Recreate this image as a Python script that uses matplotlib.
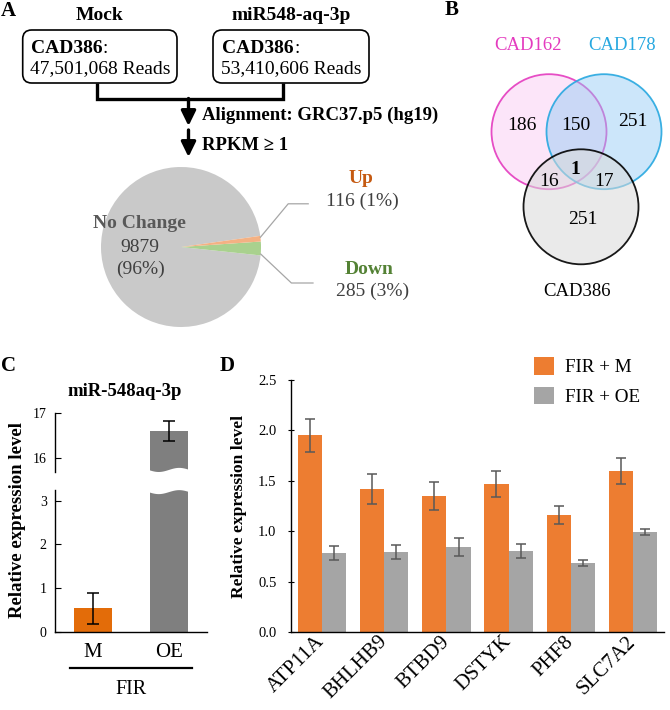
import numpy as np
import matplotlib
matplotlib.use('Agg')
import matplotlib.pyplot as plt
from matplotlib.patches import FancyBboxPatch, Circle, Polygon

plt.rcParams['font.family'] = ['Liberation Serif', 'DejaVu Serif']
plt.rcParams['mathtext.fontset'] = 'stix'

# ---- data ----
# A: read counts + pie of DE genes
sample_names = ['Mock', 'miR548-aq-3p']
sample_reads = ['47,501,068', '53,410,606']
pie_labels = ['No Change', 'Down', 'Up']
pie_counts = [9879, 285, 116]
pie_pcts = ['96%', '3%', '1%']

# B: venn
venn_sets = ['CAD162', 'CAD178', 'CAD386']
venn_regions = ['100', '110', '010', '101', '111', '011', '001']
venn_counts = [186, 150, 251, 16, 1, 17, 251]

# C: miR-548aq-3p qPCR
c_groups = ['M', 'OE']
c_vals = [0.54, 16.6]
c_errs = [0.36, 0.23]

# D: target genes
genes = ['ATP11A', 'BHLHB9', 'BTBD9', 'DSTYK', 'PHF8', 'SLC7A2']
fir_m = [1.95, 1.42, 1.35, 1.47, 1.16, 1.60]
fir_m_err = [0.16, 0.15, 0.14, 0.13, 0.09, 0.13]
fir_oe = [0.78, 0.79, 0.84, 0.80, 0.68, 0.99]
fir_oe_err = [0.07, 0.07, 0.09, 0.07, 0.03, 0.03]

W, H = 670, 710
fig = plt.figure(figsize=(W / 100, H / 100), dpi=100)


def fx(x):
    return x / W


def fy(y):
    return 1 - y / H


# overlay in pixel coords for the flow diagram / venn / labels
ov = fig.add_axes([0, 0, 1, 1])
ov.set_xlim(0, W)
ov.set_ylim(H, 0)
ov.axis('off')


def txt(x, y, s, **kw):
    kw.setdefault('ha', 'center')
    kw.setdefault('va', 'center')
    return ov.text(x, y, s, **kw)


# panel letters
for lab, x, y in [('A', 1, 11), ('B', 445, 10), ('C', 1, 366), ('D', 220, 366)]:
    txt(x, y, lab, ha='left', fontsize=15, weight='bold')

# ---- A: boxes ----
box_x = [(22.7, 177), (213, 369)]
for (x0, x1), name, reads in zip(box_x, sample_names, sample_reads):
    cx = (x0 + x1) / 2
    txt(cx, 15, name, fontsize=14, weight='bold')
    ov.add_patch(FancyBboxPatch((x0, 30), x1 - x0, 53,
                                boxstyle='round,pad=0,rounding_size=9',
                                fc='white', ec='black', lw=1.2))
    txt(cx + 3, 48.5, 'CAD386', ha='right', fontsize=14, weight='bold')
    txt(cx + 3, 48.5, ':', ha='left', fontsize=14)
    txt(cx, 69, reads + ' Reads', fontsize=14)

# connector
ov.plot([96.7, 96.7, 283.3, 283.3], [83, 98.5, 98.5, 83], color='black', lw=2.4,
        solid_joinstyle='miter', solid_capstyle='butt')
ax_arrow = 188.5
for y0, y1 in [(98.5, 126), (130, 157)]:
    ov.annotate('', xy=(ax_arrow, y1), xytext=(ax_arrow, y0),
                arrowprops=dict(arrowstyle='-|>,head_width=0.22,head_length=0.45',
                                lw=2.4, color='black', shrinkA=0, shrinkB=0,
                                mutation_scale=20))
txt(201.7, 115, 'Alignment: GRC37.p5 (hg19)', ha='left', fontsize=13.5, weight='bold')
txt(201.7, 146, 'RPKM ≥ 1', ha='left', fontsize=13.5, weight='bold')

# pie
pie_colors = ['#C9C9C9', '#A9D18E', '#F4B183']
ax_pie = fig.add_axes([fx(101), fy(327), fx(160), 160 / H])
start = 8
wedges, _ = ax_pie.pie(pie_counts, colors=pie_colors, startangle=start,
                       counterclock=True, radius=1, wedgeprops=dict(linewidth=0))
ax_pie.set_xlim(-1, 1)
ax_pie.set_ylim(-1, 1)

txt_col = '#404040'
ax_pie.text(-0.52, 0.30, pie_labels[0], ha='center', va='center', fontsize=14,
            weight='bold', color='#595959')
ax_pie.text(-0.51, 0.0, str(pie_counts[0]), ha='center', va='center', fontsize=14,
            color=txt_col)
ax_pie.text(-0.51, -0.28, '(%s)' % pie_pcts[0], ha='center', va='center', fontsize=14,
            color=txt_col)

label_cols = {'Up': '#C55A11', 'Down': '#548235'}
leader = {'Up': ((1.34, 0.54), (1.59, 0.54), (2.25, 0.86), (2.27, 0.57)),
          'Down': ((1.38, -0.45), (1.65, -0.45), (2.35, -0.275), (2.39, -0.56))}
for i in (1, 2):
    name = pie_labels[i]
    (ex, ey), (lx, ly), (tx, ty), (nx, ny) = leader[name]
    # leader starts at the outer edge of its wedge
    ang = np.deg2rad(wedges[i].theta2 - 1 if name == 'Up' else wedges[i].theta1 + 1)
    sx, sy = np.cos(ang), np.sin(ang)
    ax_pie.plot([sx, ex, lx], [sy, ey, ly], color='#A6A6A6', lw=0.9, clip_on=False)
    ax_pie.text(tx, ty, name, ha='center', va='center', fontsize=14, weight='bold',
                color=label_cols[name], clip_on=False)
    ax_pie.text(nx, ny, '%d (%s)' % (pie_counts[i], pie_pcts[i]), ha='center',
                va='center', fontsize=14, color=txt_col, clip_on=False)

# ---- B: venn ----
r = 57.5
venn_centers = [(549, 131.7), (604, 131.7), (581, 206.8)]
venn_edge = ['#E43BBF', '#27A8E0', 'black']
venn_face = ['#F7B6EE', '#8FC9F4', '#DADADA']
venn_alpha = [0.35, 0.45, 0.55]
for (cx, cy), ec, fc, a in zip(venn_centers, venn_edge, venn_face, venn_alpha):
    ov.add_patch(Circle((cx, cy), r, fc=fc, alpha=a, lw=0))
    ov.add_patch(Circle((cx, cy), r, fc='none', ec=ec, lw=1.3, alpha=0.9))
venn_label_pos = [(528.3, 45), (621.7, 45), (577, 291.7)]
for name, (x, y), c in zip(venn_sets, venn_label_pos, ['#E43BBF', '#27A8E0', 'black']):
    txt(x, y, name, fontsize=13.5, color=c)
region_pos = {'100': (521.7, 125), '110': (576, 125), '010': (633.3, 121),
              '101': (549.3, 182), '111': (575, 170), '011': (604.3, 182),
              '001': (583.3, 220)}
for key, n in zip(venn_regions, venn_counts):
    x, y = region_pos[key]
    txt(x, y, str(n), fontsize=14, weight='bold' if key == '111' else 'normal')

# ---- C: broken axis bar ----
c_colors = ['#E36C09', '#7F7F7F']
ax_lo = fig.add_axes([fx(55), fy(632), fx(152), 142 / H])
ax_hi = fig.add_axes([fx(55), fy(471.7), fx(152), 58.7 / H])
cx_pos = np.arange(len(c_groups))
for ax in (ax_lo, ax_hi):
    ax.set_facecolor('none')
    ax.bar(cx_pos, c_vals, width=0.5, color=c_colors, lw=0)
    ax.set_xlim(-0.5, 1.5)
    for s in ('top', 'right'):
        ax.spines[s].set_visible(False)
    ax.spines['left'].set_linewidth(1.0)
    ax.tick_params(axis='y', direction='in', length=4, labelsize=10, pad=6)
ax_lo.errorbar(cx_pos[0], c_vals[0], yerr=c_errs[0], fmt='none', ecolor='black',
               elinewidth=1.1, capsize=4, capthick=1.1)
ax_hi.errorbar(cx_pos[1], c_vals[1], yerr=c_errs[1], fmt='none', ecolor='black',
               elinewidth=1.1, capsize=4, capthick=1.1)
ax_lo.set_ylim(0, 3.24)
ax_lo.set_yticks([0, 1, 2, 3])
ax_hi.set_ylim(15.69, 17.0)
ax_hi.set_yticks([16, 17])
ax_hi.spines['bottom'].set_visible(False)
ax_hi.set_xticks([])
ax_lo.spines['bottom'].set_linewidth(1.0)
ax_lo.set_xticks(cx_pos)
ax_lo.set_xticklabels(c_groups, fontsize=15)
ax_lo.tick_params(axis='x', length=0, pad=8)

# wavy cut on the OE bar
wx = np.linspace(cx_pos[1] - 0.27, cx_pos[1] + 0.27, 60)
tt = (wx - wx[0]) / (wx[-1] - wx[0])
wave_hi = 0.035 * np.sin(2 * np.pi * tt + np.pi)
ax_hi.add_patch(Polygon(np.column_stack([np.r_[wx, wx[::-1]],
                                         np.r_[wave_hi + 0.03, np.full(60, -0.2)]]),
                        closed=True, fc='white', ec='none',
                        transform=ax_hi.get_xaxis_transform(), clip_on=False, zorder=3))
wave_lo = 0.014 * np.sin(2 * np.pi * tt + np.pi)
ax_lo.add_patch(Polygon(np.column_stack([np.r_[wx, wx[::-1]],
                                         np.r_[wave_lo + 0.985, np.full(60, 1.1)]]),
                        closed=True, fc='white', ec='none',
                        transform=ax_lo.get_xaxis_transform(), clip_on=False, zorder=3))

txt(125, 391, 'miR-548aq-3p', fontsize=13.5, weight='bold')
txt(18, 520, 'Relative expression level', fontsize=13.5, weight='bold', rotation=90)
ov.plot([70, 191.7], [667.7, 667.7], color='black', lw=1.6)
txt(131, 690, 'FIR', fontsize=14.5)

# ---- D: grouped bars ----
ax_d = fig.add_axes([fx(291), fy(632), fx(373), 252 / H])
ax_d.set_facecolor('none')
xd = np.arange(len(genes))
bw = 0.39
b1 = ax_d.bar(xd - bw / 2, fir_m, width=bw, color='#ED7D31', lw=0, label='FIR + M')
b2 = ax_d.bar(xd + bw / 2, fir_oe, width=bw, color='#A5A5A5', lw=0, label='FIR + OE')
ax_d.errorbar(xd - bw / 2, fir_m, yerr=fir_m_err, fmt='none', ecolor='#595959',
              elinewidth=1.1, capsize=3.5, capthick=1.1)
ax_d.errorbar(xd + bw / 2, fir_oe, yerr=fir_oe_err, fmt='none', ecolor='#595959',
              elinewidth=1.1, capsize=3.5, capthick=1.1)
ax_d.set_xlim(-0.5, len(genes) - 0.5)
ax_d.set_ylim(0, 2.5)
ax_d.set_yticks(np.arange(0, 2.51, 0.5))
ax_d.set_yticklabels(['%.1f' % v for v in np.arange(0, 2.51, 0.5)])
for s in ('top', 'right'):
    ax_d.spines[s].set_visible(False)
ax_d.spines['left'].set_linewidth(1.0)
ax_d.spines['bottom'].set_linewidth(1.0)
ax_d.tick_params(axis='y', direction='inout', length=5, labelsize=10.5, pad=8)
ax_d.set_xticks(xd)
ax_d.set_xticklabels(genes, fontsize=15)
ax_d.tick_params(axis='x', length=0, pad=5)
for tl in ax_d.get_xticklabels():
    tl.set_rotation(45)
    tl.set_ha('right')
    tl.set_va('center')
    tl.set_rotation_mode('anchor')
ax_d.set_ylabel('Relative expression level', fontsize=12.6, weight='bold')
ax_d.yaxis.set_label_coords(-0.118, 0.5)
ax_d.legend(frameon=False, loc='upper left', bbox_to_anchor=(fx(534), fy(357)),
            bbox_transform=fig.transFigure, borderpad=0, borderaxespad=0,
            handlelength=1.05, handleheight=1.05, labelspacing=0.55,
            handletextpad=0.6, fontsize=13.7)

fig.savefig('out.png', dpi=100)
